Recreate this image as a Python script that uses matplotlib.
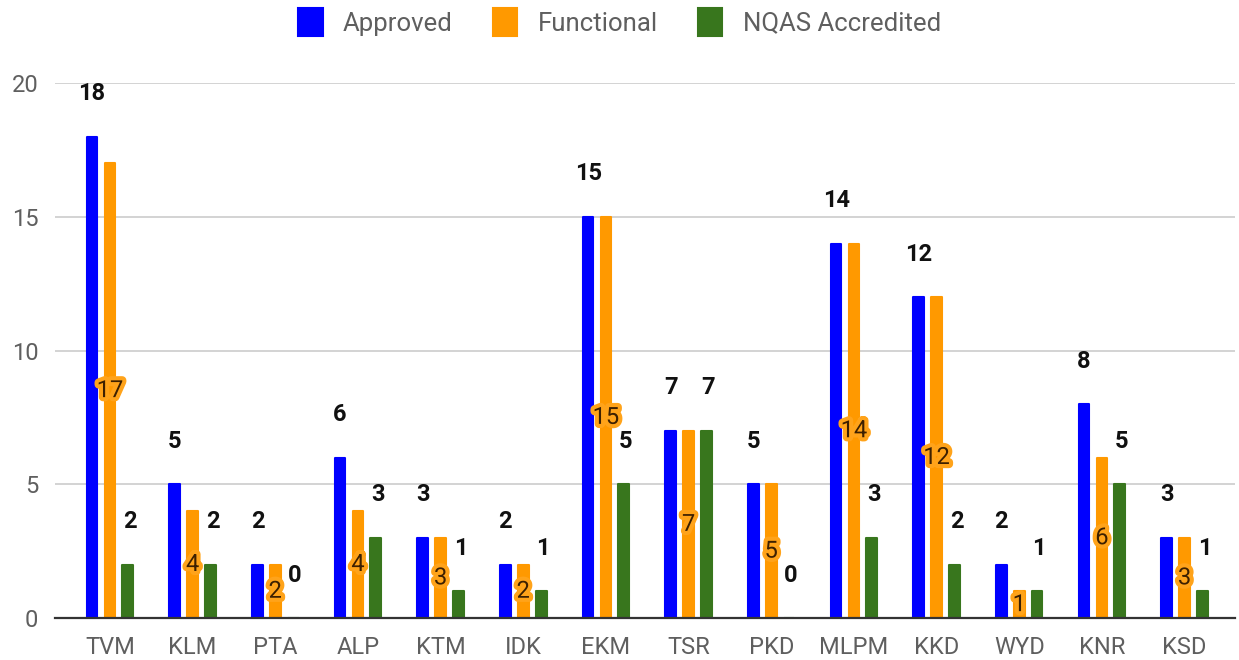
import matplotlib
matplotlib.use("Agg")
import matplotlib.pyplot as plt
import matplotlib.patheffects as pe
import numpy as np

categories = ["TVM", "KLM", "PTA", "ALP", "KTM", "IDK", "EKM", "TSR", "PKD", "MLPM", "KKD", "WYD", "KNR", "KSD"]
approved = [18, 5, 2, 6, 3, 2, 15, 7, 5, 14, 12, 2, 8, 3]
functional = [17, 4, 2, 4, 3, 2, 15, 7, 5, 14, 12, 1, 6, 3]
nqas = [2, 2, 0, 3, 1, 1, 5, 7, 0, 3, 2, 1, 5, 1]
series_names = ["Approved", "Functional", "NQAS Accredited"]
colors = ["#0000FF", "#FF9900", "#38761D"]
yticks = [0, 5, 10, 15, 20]

plt.rcParams['font.family'] = ['Roboto', 'DejaVu Sans']

fig = plt.figure(figsize=(12.39, 6.6), dpi=100)
ax = fig.add_axes([55/1239, 1 - 618/660, (1235-55)/1239, (618-83)/660])

x = np.arange(len(categories))
off = 0.216
w = 0.13
data = [approved, functional, nqas]
handles = []
for i, (vals, col) in enumerate(zip(data, colors)):
    b = ax.bar(x + (i-1)*off, vals, width=w, color=col, edgecolor=col,
               linewidth=1.5, joinstyle='round', zorder=3, label=series_names[i])
    handles.append(b)

for xi, v in zip(x, approved):
    ax.annotate(str(v), (xi - off, v), xytext=(0, 43), textcoords='offset pixels',
                ha='center', va='center', fontsize=17, fontweight='bold', color='#111111', zorder=5)
for xi, v in zip(x, nqas):
    ax.annotate(str(v), (xi + off, v), xytext=(2, 43), textcoords='offset pixels',
                ha='center', va='center', fontsize=17, fontweight='bold', color='#111111', zorder=5)
for xi, v in zip(x, functional):
    ax.text(xi, v/2, str(v), ha='center', va='center', fontsize=17, color='#3d2000', zorder=6,
            path_effects=[pe.withStroke(linewidth=6, foreground='#FFA31A')])

ax.set_xlim(-0.665, 13.61)
ax.set_ylim(0, 20)
ax.set_yticks(yticks)
ax.set_yticklabels([str(t) for t in yticks])
ax.set_xticks(x)
ax.set_xticklabels(categories)
ax.tick_params(axis='both', length=0, labelsize=17, labelcolor='#5f5f5f')
ax.tick_params(axis='x', pad=13)
ax.tick_params(axis='y', pad=12)
for s in ['top', 'right', 'left']:
    ax.spines[s].set_visible(False)
ax.spines['bottom'].set_color('#333333')
ax.spines['bottom'].set_linewidth(1.6)
ax.spines['bottom'].set_zorder(4)
ax.yaxis.grid(True, color='#c8c8c8', linewidth=1.1)
ax.set_axisbelow(True)

leg = fig.legend(handles=handles, labels=series_names, loc='center', bbox_to_anchor=(0.5, 1 - 22/660),
                 ncol=3, frameon=False, fontsize=18.5, labelcolor='#5f5f5f', handlelength=0.95,
                 handleheight=1.3, columnspacing=1.55, handletextpad=0.8)

fig.savefig("out.png", dpi=100)
